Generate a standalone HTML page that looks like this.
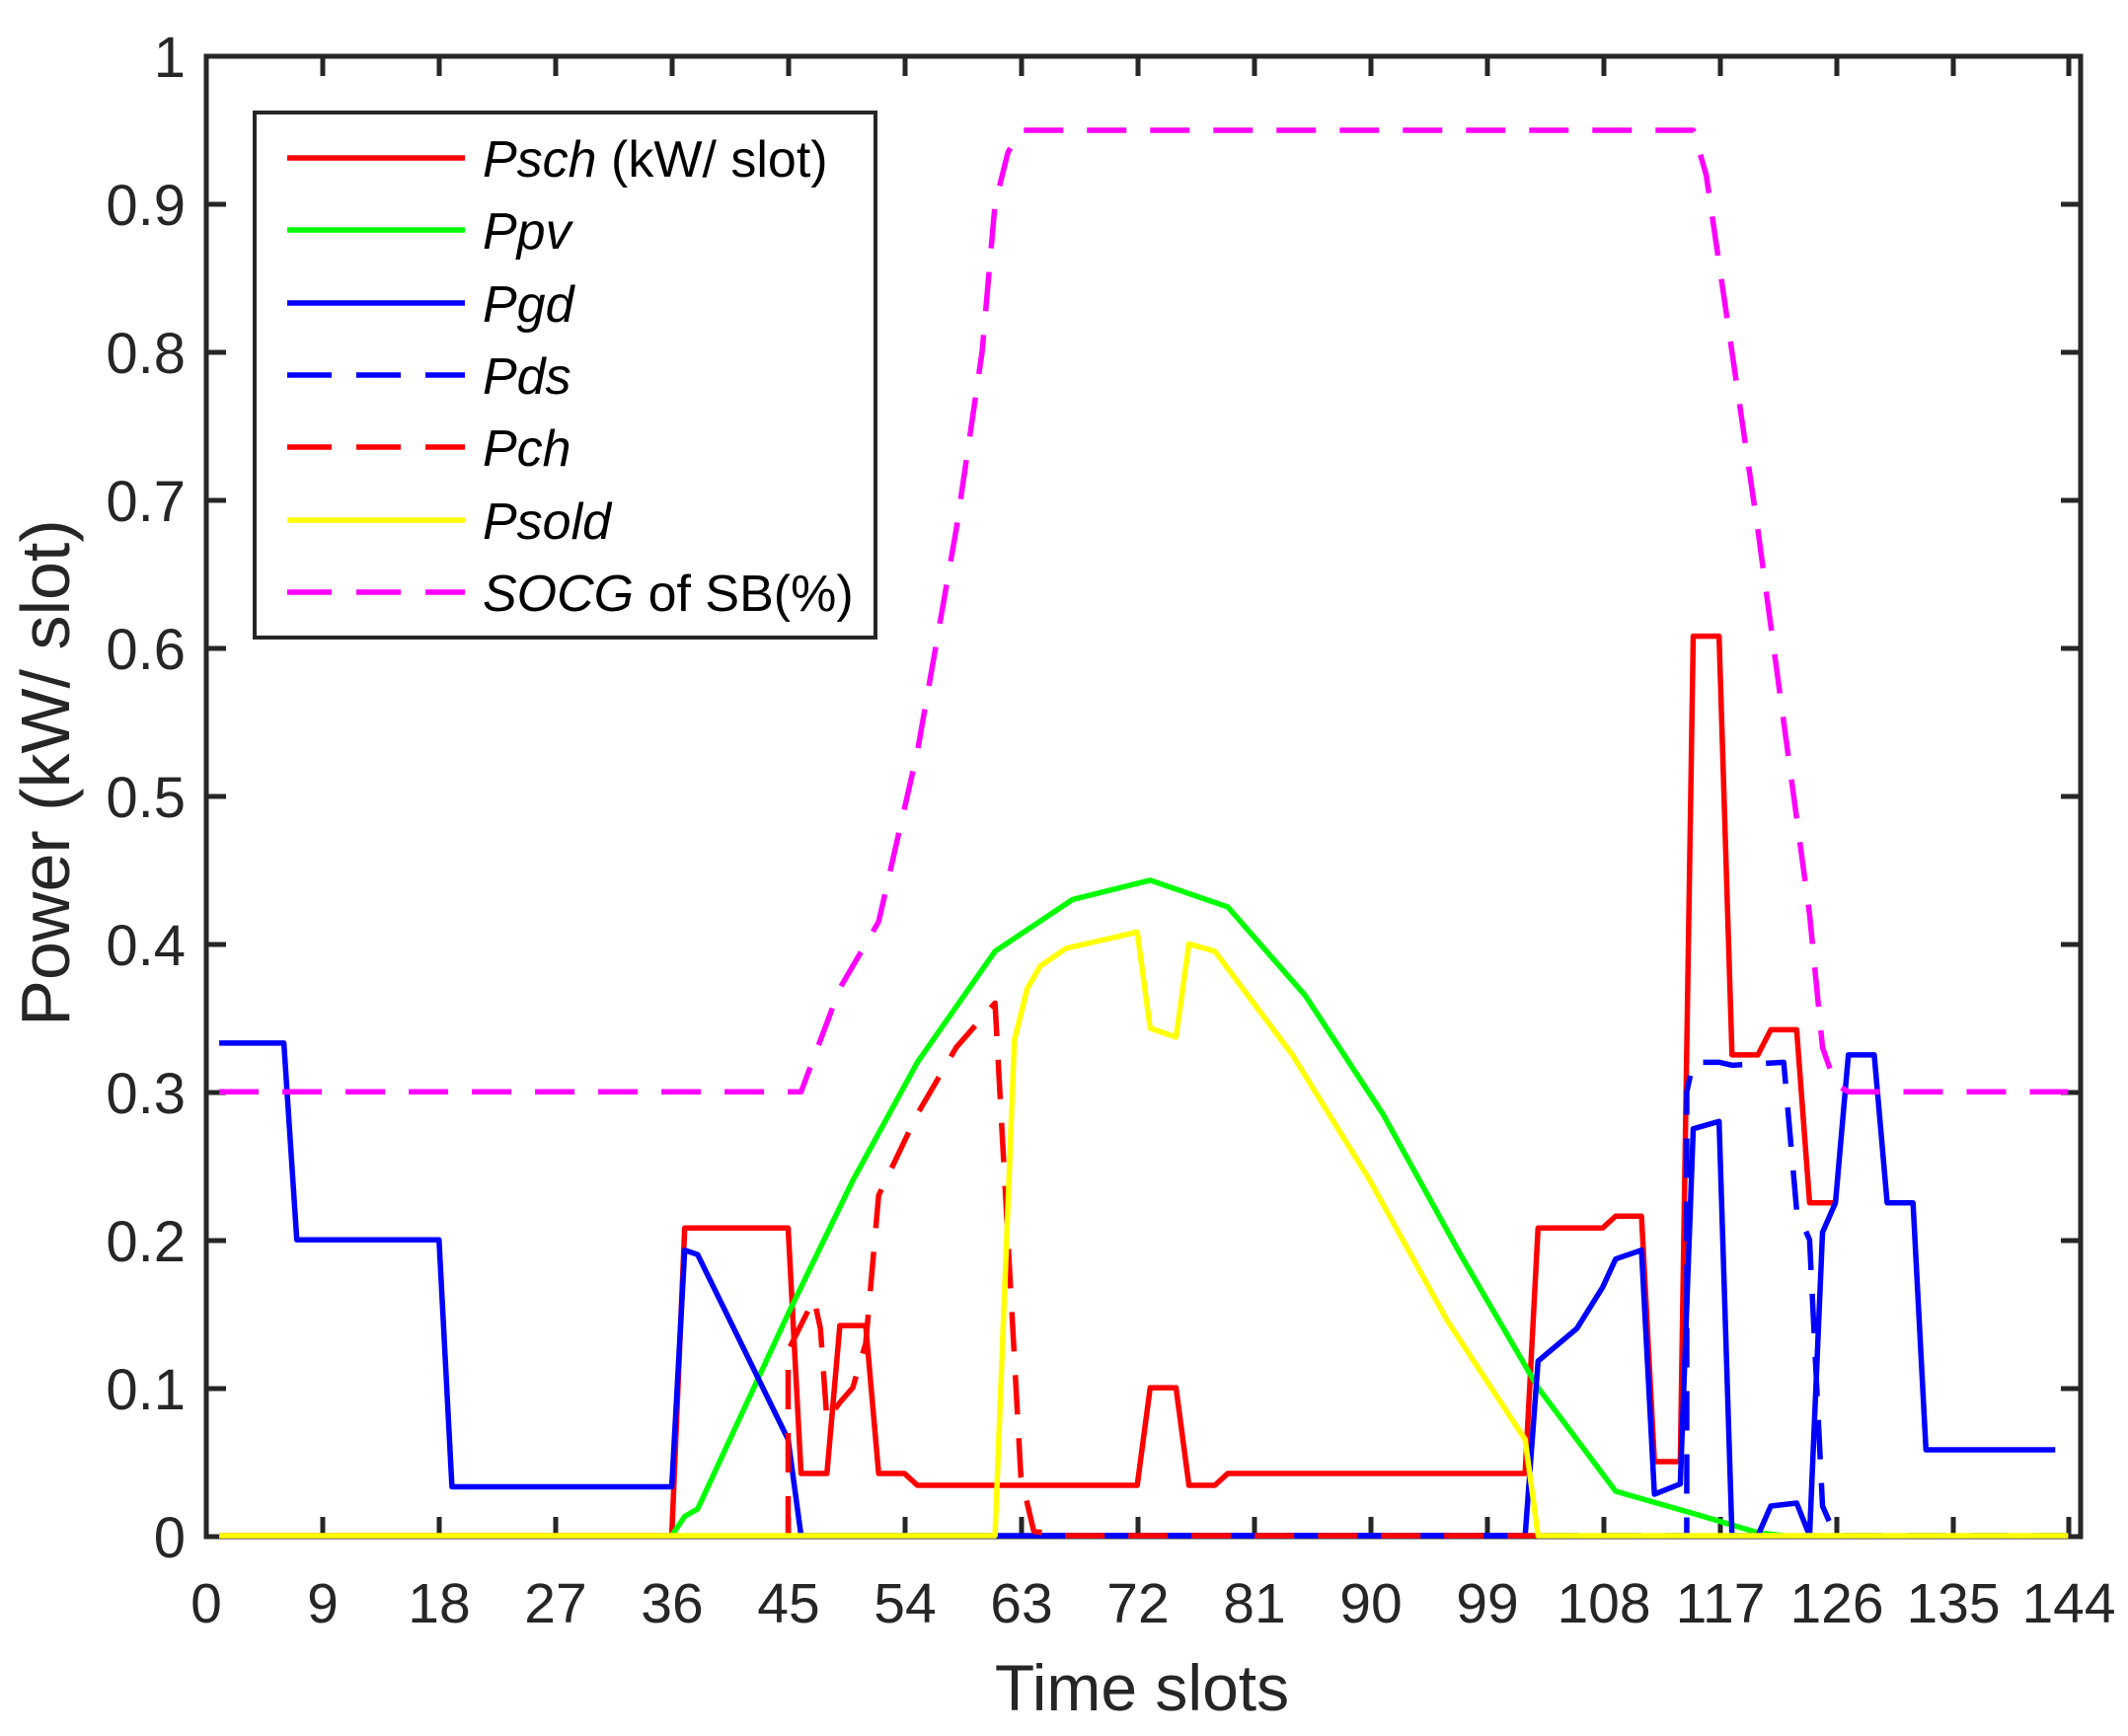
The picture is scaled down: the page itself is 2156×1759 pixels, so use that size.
<!DOCTYPE html>
<html><head><style>html,body{margin:0;padding:0;background:#fff}svg{display:block}</style></head>
<body>
<svg xmlns="http://www.w3.org/2000/svg" width="2156" height="1759" viewBox="0 0 2156 1759" font-family="'Liberation Sans', sans-serif">
<rect width="2156" height="1759" fill="#fff"/>
<rect x="209" y="57" width="1899" height="1500" fill="none" stroke="#262626" stroke-width="5"/>
<g stroke="#262626" stroke-width="5">
<path d="M327,1557v-20M445,1557v-20M563,1557v-20M681,1557v-20M799,1557v-20M917,1557v-20M1035,1557v-20M1153,1557v-20M1271,1557v-20M1389,1557v-20M1507,1557v-20M1625,1557v-20M1743,1557v-20M1861,1557v-20M1979,1557v-20M2096,1557v-20"/>
<path d="M327,57v20M445,57v20M563,57v20M681,57v20M799,57v20M917,57v20M1035,57v20M1153,57v20M1271,57v20M1389,57v20M1507,57v20M1625,57v20M1743,57v20M1861,57v20M1979,57v20M2096,57v20"/>
<path d="M209,1407h20M209,1257h20M209,1107h20M209,957h20M209,807h20M209,657h20M209,507h20M209,357h20M209,207h20"/>
<path d="M2108,1407h-20M2108,1257h-20M2108,1107h-20M2108,957h-20M2108,807h-20M2108,657h-20M2108,507h-20M2108,357h-20M2108,207h-20"/>
</g>
<g fill="none" stroke-width="5.5" stroke-linejoin="round">
<g transform="translate(209,1556) scale(13.1,-1499)">
<polyline vector-effect="non-scaling-stroke" stroke="#ff0000" points="1,0 36,0 37,0.208 45,0.208 46,0.042 48,0.042 49,0.142 51,0.142 52,0.042 54,0.042 55,0.034 72,0.034 73,0.1 75,0.1 76,0.034 78,0.034 79,0.042 102,0.042 103,0.208 108,0.208 109,0.216 111,0.216 112,0.05 114,0.05 115,0.608 117,0.608 118,0.325 120,0.325 121,0.342 123,0.342 124,0.225 126,0.225"/>
<polyline vector-effect="non-scaling-stroke" stroke="#00ff00" points="36,0 37,0.013 38,0.018 45,0.15 50,0.24 55,0.32 61,0.395 67,0.43 73,0.443 79,0.425 85,0.365 91,0.285 97,0.19 103,0.1 109,0.03 115,0.015 120,0.002 122,0"/>
<polyline vector-effect="non-scaling-stroke" stroke="#0000ff" points="1,0.333 6,0.333 7,0.2 18,0.2 19,0.033 36,0.033 37,0.193 38,0.19 45,0.065 46,0 102,0 103,0.118 106,0.14 108,0.168 109,0.187 111,0.193 112,0.028 114,0.035 115,0.275 117,0.28 118,0 120,0 121,0.02 123,0.022 124,0 125,0.205 126,0.225 127,0.325 129,0.325 130,0.225 132,0.225 133,0.058 143,0.058"/>
<polyline vector-effect="non-scaling-stroke" stroke="#0000ff" stroke-dasharray="40 24" points="64,0 102,0 114.5,0 114.5,0.3 115,0.32 117,0.32 118,0.318 122,0.32 123,0.22 124,0.2 125,0.02 126,0 144,0"/>
<polyline vector-effect="non-scaling-stroke" stroke="#ff0000" stroke-dasharray="40 24" points="45,0 45,0.125 47,0.16 47.5,0.14 48,0.078 49,0.09 50,0.1 51,0.13 52,0.23 55,0.285 58,0.33 61,0.36 62,0.2 63,0.04 64,0.003 66,0 103,0"/>
<polyline vector-effect="non-scaling-stroke" stroke="#ffff00" points="1,0 61,0 62.5,0.335 63.5,0.37 64.5,0.385 66.5,0.397 72,0.408 73,0.343 75,0.337 76,0.4 78,0.395 84,0.325 90,0.24 96,0.145 102,0.065 103,0 144,0"/>
<polyline vector-effect="non-scaling-stroke" stroke="#ff00ff" stroke-dasharray="40 24" points="1,0.3 46,0.3 49,0.37 51,0.4 52,0.415 55,0.53 58,0.68 60,0.8 61,0.9 62,0.935 63,0.95 115,0.95 116,0.92 118,0.8 120,0.68 122,0.55 124,0.42 125,0.33 126,0.305 127,0.3 144,0.3"/>
</g>
</g>
<g fill="#262626" font-size="58" text-anchor="end">
<text x="188" y="1578">0</text><text x="188" y="1428">0.1</text><text x="188" y="1278">0.2</text><text x="188" y="1128">0.3</text><text x="188" y="978">0.4</text><text x="188" y="828">0.5</text><text x="188" y="678">0.6</text><text x="188" y="528">0.7</text><text x="188" y="378">0.8</text><text x="188" y="228">0.9</text><text x="188" y="78">1</text>
</g>
<g fill="#262626" font-size="57" text-anchor="middle">
<text x="209" y="1644">0</text><text x="327" y="1644">9</text><text x="445" y="1644">18</text><text x="563" y="1644">27</text><text x="681" y="1644">36</text><text x="799" y="1644">45</text><text x="917" y="1644">54</text><text x="1035" y="1644">63</text><text x="1153" y="1644">72</text><text x="1271" y="1644">81</text><text x="1389" y="1644">90</text><text x="1507" y="1644">99</text><text x="1625" y="1644">108</text><text x="1743" y="1644">117</text><text x="1861" y="1644">126</text><text x="1979" y="1644">135</text><text x="2096" y="1644">144</text>
</g>
<text x="1157" y="1733" fill="#262626" font-size="66" text-anchor="middle">Time slots</text>
<text transform="translate(70,783) rotate(-90)" fill="#262626" font-size="70" text-anchor="middle">Power (kW/ slot)</text>
<rect x="258" y="114" width="629" height="532" fill="#fff" stroke="#262626" stroke-width="4"/>
<g stroke-width="5.5">
<line x1="291" y1="160" x2="471" y2="160" stroke="#ff0000"/>
<line x1="291" y1="233" x2="471" y2="233" stroke="#00ff00"/>
<line x1="291" y1="307" x2="471" y2="307" stroke="#0000ff"/>
<line x1="291" y1="380" x2="471" y2="380" stroke="#0000ff" stroke-dasharray="45 25"/>
<line x1="291" y1="453" x2="471" y2="453" stroke="#ff0000" stroke-dasharray="45 25"/>
<line x1="291" y1="527" x2="471" y2="527" stroke="#ffff00"/>
<line x1="291" y1="600" x2="471" y2="600" stroke="#ff00ff" stroke-dasharray="45 25"/>
</g>
<g fill="#000" font-size="52">
<text x="489" y="179"><tspan font-style="italic">Psch</tspan> (kW/ slot)</text>
<text x="489" y="252" font-style="italic">Ppv</text>
<text x="489" y="326" font-style="italic">Pgd</text>
<text x="489" y="399" font-style="italic">Pds</text>
<text x="489" y="472" font-style="italic">Pch</text>
<text x="489" y="546" font-style="italic">Psold</text>
<text x="489" y="619"><tspan font-style="italic">SOCG</tspan> of SB(%)</text>
</g>
</svg>
</body></html>
